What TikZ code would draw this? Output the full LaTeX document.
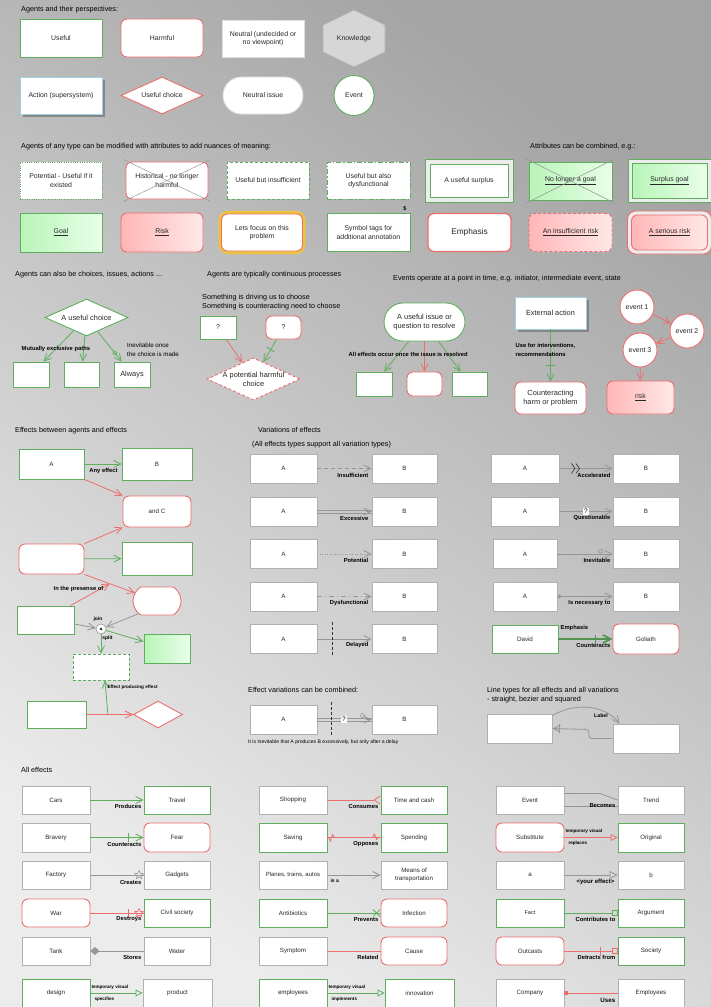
\documentclass[tikz,border=0pt]{standalone}
\usepackage{fontspec}
\setmainfont{Liberation Sans}
\usetikzlibrary{arrows.meta,shapes.geometric,shapes.misc,decorations.markings,shadows}
\definecolor{gr}{RGB}{94,174,94}
\definecolor{rd}{RGB}{236,110,110}
\definecolor{gy}{RGB}{176,176,176}
\definecolor{gyl}{RGB}{150,150,150}
\definecolor{bl}{RGB}{160,208,228}
\definecolor{gfa}{RGB}{184,244,184}
\definecolor{gfb}{RGB}{232,255,232}
\definecolor{pfa}{RGB}{255,182,182}
\definecolor{pfb}{RGB}{255,232,232}
\definecolor{gold}{RGB}{236,196,60}
\definecolor{bgtop}{RGB}{164,164,164}
\definecolor{bgbot}{RGB}{236,236,236}
\definecolor{txt}{RGB}{40,40,40}
\definecolor{hexf}{RGB}{214,214,214}
\definecolor{sqred}{RGB}{230,20,20}
\tikzset{
  nf/.style={font=\fontsize{6.9}{8.2}\selectfont},
  sf/.style={font=\fontsize{6.2}{7.4}\selectfont},
  bf/.style={font=\fontsize{7.4}{8.8}\selectfont},
  base/.style={draw, fill=white, line width=0.9pt, inner sep=1pt, align=center, text=txt, nf},
  gbox/.style={base, draw=gr},
  rbox/.style={base, draw=rd, rounded corners=6pt},
  nbox/.style={base, draw=gy},
  sz/.style 2 args={minimum width=#1pt, minimum height=#2pt},
  ttl/.style={anchor=west, inner sep=0pt, text=black, align=left, font=\fontsize{7.2}{8.8}\selectfont},
  lbl/.style={inner sep=0.5pt, text=black, align=left, font=\bfseries\fontsize{5.8}{7}\selectfont},
  tny/.style={inner sep=0.3pt, text=black, font=\bfseries\fontsize{4.6}{5.6}\selectfont},
  eff/.style={line width=0.8pt, -{Straight Barb[length=7pt,width=7pt]}},
  ge/.style={eff, draw=gr}, re/.style={eff, draw=rd}, ye/.style={eff, draw=gyl},
  xbar/.style 2 args={postaction={decorate, decoration={markings, mark=at position #1 with {\draw[-,solid,line width=0.9pt,#2] (0,-4.5pt) -- (0,4.5pt);}}}},
  mk/.style={postaction={decorate, decoration={markings, mark=#1}}},
  gfill/.style={left color=gfa, right color=gfb},
  pfill/.style={left color=pfa, right color=pfb},
  shad/.style={drop shadow={shadow xshift=2.5pt, shadow yshift=-2.5pt, fill=black!60, opacity=0.6}},
  crossl/.style={draw=gyl, line width=0.5pt},
}
\begin{document}
\begin{tikzpicture}[x=1pt,y=-1pt]
\useasboundingbox (0,0) rectangle (711,1007);
\shade[top color=bgtop, bottom color=bgbot, shading angle=-35] (0,0) rectangle (711,1007);

% ---------- Section 1
\node[ttl] (t1) at (21,10) {Agents and their perspectives:};
\node[gbox, sz={82}{38}] (useful) at (61,38) {Useful};
\node[rbox, sz={82}{38}] (harmful) at (162,38) {Harmful};
\node[base, draw=gray!25, sz={82}{37}] (neutral) at (263,38.5) {Neutral (undecided or\\no viewpoint)};
\draw[draw=gray!60, fill=hexf, line width=0.6pt] (354,10) -- (385,25) -- (385,52) -- (354,67) -- (323,52) -- (323,25) -- cycle;
\node[nf, text=txt] (know) at (354,38.5) {Knowledge};
\node[base, draw=bl, shad, sz={82}{37}] (action) at (61,95.5) {Action (supersystem)};
\node[base, draw=rd, diamond, aspect=2.2, inner sep=0pt, sz={82}{37}] (uchoice) at (162,95.5) {Useful choice};
\node[base, draw=gray!25, rounded rectangle, sz={82}{37}] (nissue) at (263,95.5) {Neutral issue};
\node[base, draw=gr, circle, minimum size=40pt, inner sep=0pt] (event0) at (354,95.5) {Event};

% ---------- Section 2
\node[ttl] (t2) at (21,147) {Agents of any type can be modified with attributes to add nuances of meaning:};
\node[ttl] (t2b) at (530,147) {Attributes can be combined, e.g.:};
\node[gbox, sz={82}{37}, dash pattern=on 1pt off 1.3pt] (pot) at (61,180.5) {Potential - Useful if it\\existed};
\node[rbox, sz={82}{37}] (hist) at (167,180.5) {Historical - no longer\\harmful};
\draw[crossl] ([shift={(-2,-2)}]hist.north west) -- ([shift={(2,2)}]hist.south east);
\draw[crossl] ([shift={(-2,2)}]hist.south west) -- ([shift={(2,-2)}]hist.north east);
\node[gbox, sz={82}{37}, dash pattern=on 3pt off 2pt] (insuf) at (268,180.5) {Useful but insufficient};
\node[gbox, sz={83}{37}, dash pattern=on 5pt off 2pt on 1.5pt off 2pt] (dysf) at (368.5,180.5) {Useful but also\\dysfunctional};
\node[base, draw=gr, fill=gray!15, sz={88}{43}] (surO) at (469,180.5) {};
\node[gbox, sz={78}{33}] (sur) at (469,180.5) {A useful surplus};
\node[gbox, gfill, sz={83}{38}] (nlg) at (570.5,181) {\underline{No longer a goal}};
\draw[crossl] ([shift={(-3,-3)}]nlg.north west) -- ([shift={(3,3)}]nlg.south east);
\draw[crossl] ([shift={(-3,3)}]nlg.south west) -- ([shift={(3,-3)}]nlg.north east);
\node[base, draw=gr, fill=gray!15, sz={83}{43}] (sgO) at (669.5,180.5) {};
\node[gbox, gfill, sz={75}{35}] (sg) at (669.5,180.5) {\underline{Surplus goal}};

\node[gbox, gfill, sz={82}{39}] (goal) at (61,232.5) {\underline{Goal}};
\node[rbox, pfill, sz={82}{39}] (risk) at (162,232.5) {\underline{Risk}};
\node[draw=gold, line width=3.2pt, rounded corners=8pt, inner sep=0pt, sz={84}{40}] (focO) at (262,232.5) {};
\node[rbox, sz={81}{37}] (focus) at (262,232.5) {Lets focus on this\\problem};
\node[gbox, sz={83}{38}] (sym) at (368.5,232.5) {Symbol tags for\\additional annotation};
\node[tny, font=\bfseries\fontsize{5.5}{6}\selectfont] (dollar) at (405,209) {\$};
\node[rbox, line width=1.3pt, sz={83}{38}, font=\fontsize{8.3}{9.5}\selectfont] (emph) at (469.5,232.5) {Emphasis};
\node[rbox, pfill, dash pattern=on 3pt off 2pt, sz={83}{38}] (irisk) at (570.5,232.5) {\underline{An insufficient risk}};
\node[base, draw=rd, rounded corners=8pt, fill=gray!15, sz={84}{43}] (srO) at (669.5,232.5) {};
\node[rbox, pfill, sz={76}{35}] (srisk) at (669.5,232.5) {\underline{A serious risk}};

% ---------- Section 3
\node[ttl] (t3a) at (15,275) {Agents can also be choices, issues, actions ...};
\node[ttl] (t3b) at (207,275) {Agents are typically continuous processes};
\node[ttl] (t3c) at (393,279) {Events operate at a point in time, e.g. initiator, intermediate event, state};

\node[base, draw=gr, diamond, aspect=2.2, inner sep=0pt, bf, sz={83}{37}] (uc) at (86.5,317.5) {A useful choice};
\node[gbox, sz={36}{25}] (c1) at (31,374.5) {};
\node[gbox, sz={35}{25}] (c2) at (81.5,374.5) {};
\node[gbox, bf, sz={36}{25}] (always) at (132,374.5) {Always};
\draw[ge] (uc) -- (c1);
\draw[ge] (uc) -- (c2);
\draw[ge, mk={at position -11pt with {\draw[-, gr, line width=0.6pt, fill=none] (0,0) circle (2pt);}}] (uc) -- (always);
\node[lbl, anchor=west] (lme) at (21,349) {Mutually exclusive paths};
\node[anchor=west, inner sep=0pt, align=left, text=black, font=\fontsize{6.2}{9}\selectfont] (linev) at (127,349.5) {Inevitable once\\the choice is made};

\node[anchor=west, inner sep=0pt, align=left, text=black, font=\fontsize{7.2}{9}\selectfont] (lsome) at (202,302.5) {Something is driving us to choose\\Something is counteracting need to choose};
\node[gbox, sz={36}{23}] (q1) at (218,327.5) {?};
\node[rbox, sz={35}{23}] (q2) at (283.5,327.5) {?};
\node[base, draw=rd, diamond, aspect=2.2, inner sep=0pt, dash pattern=on 3pt off 2pt, bf, sz={83}{37}] (ph) at (253.5,379) {A potential harmful\\choice};
\draw[re] (q1) -- (ph);
\draw[ge, xbar={0.45}{gr}] (q2) -- (ph);

\node[gbox, rounded rectangle, bf, sz={83}{38}] (issue) at (424.5,322) {A useful issue or\\question to resolve};
\node[gbox, sz={36}{24}] (e1) at (374,384) {};
\node[rbox, sz={35}{24}] (e2) at (424.5,384) {};
\node[gbox, sz={35}{24}] (e3) at (469.5,384) {};
\draw[ge] (issue) -- (e1);
\draw[re] (issue) -- (e2);
\draw[ge] (issue) -- (e3);
\node[lbl, anchor=west] (lall) at (348,354) {All effects occur once the issue is resolved};

\node[base, draw=bl, shad, bf, sz={71}{32}] (ext) at (550.5,313) {External action};
\node[rbox, bf, sz={71}{32}] (counter) at (550.5,398) {Counteracting\\harm or problem};
\draw[ge, xbar={-16pt}{gr}] (ext) -- (counter);
\node[lbl, anchor=west, font=\bfseries\fontsize{5.8}{9}\selectfont] (luse) at (515,349.5) {Use for interventions,\\recommendations};

\node[base, draw=rd, circle, minimum size=34pt, inner sep=0pt] (ev1) at (637,307) {event 1};
\node[base, draw=rd, circle, minimum size=34pt, inner sep=0pt] (ev2) at (687,331) {event 2};
\node[base, draw=rd, circle, minimum size=34pt, inner sep=0pt] (ev3) at (640,350) {event 3};
\node[rbox, pfill, sz={67}{33}] (riskb) at (640.5,397.5) {\underline{risk}};
\draw[re] (ev1) -- (ev2);
\draw[re] (ev2) -- (ev3);
\draw[re] (ev3) -- (riskb);

% ---------- Section 4: effects between agents and effects
\node[ttl] (t4) at (15,431) {Effects between agents and effects};
\node[gbox, sf, sz={65}{30}] (A) at (51.5,464) {A};
\node[gbox, sf, sz={70}{32}] (B) at (157,464) {B};
\draw[ge] (A) -- (B);
\node[lbl] (lany) at (103.5,471) {Any effect};
\node[rbox, sf, sz={68}{31}] (C) at (157,511.5) {and C};
\draw[re] (A.south east) -- (C.north west);
\node[rbox, sz={65}{30}] (rl) at (51.5,559) {};
\node[gbox, sz={70}{33}] (g2) at (157,558.5) {};
\draw[re] (rl.north east) -- (C.south west);
\draw[ge] (rl) -- (g2);
\node[rbox, rounded rectangle, sz={50}{28}] (S) at (157,601) {};
\draw[re] (rl.south east) -- coordinate[pos=0.5] (m1) (S.160);
\node[gbox, sz={57}{28}] (g3) at (45.5,620) {};
\draw[re] ([xshift=-4pt]g3.north east) -- (m1);
\node[lbl] (lpres) at (78.5,589) {In the presense of};
\node[circle, draw=gyl, fill=white, line width=0.6pt, minimum size=10pt, inner sep=0pt] (join) at (101,629) {};
\fill[black!70] (join.center) circle (1.6pt);
\draw[ye] ([yshift=-4pt]g3.east) -- (join);
\draw[ye] (S.215) -- (join);
\node[gbox, gfill, sz={46}{29}] (g4) at (167,648.5) {};
\node[gbox, dash pattern=on 3pt off 2pt, sz={56}{26}] (dd) at (101,667) {};
\draw[ge] (join) -- ([yshift=7pt]g4.west);
\draw[ge] (join) -- (dd.north);
\node[tny, font=\bfseries\fontsize{5}{6}\selectfont] (ljoin) at (98,619) {join};
\node[tny, font=\bfseries\fontsize{5}{6}\selectfont] (lsplit) at (107.5,638) {split};
\node[gbox, sz={59}{27}] (g5) at (56.5,714.5) {};
\node[base, draw=rd, diamond, inner sep=0pt, sz={49}{27}] (di) at (158,714.5) {};
\draw[re] (g5) -- coordinate[pos=0.46] (m2) (di);
\draw[ge] (m2) -- ([xshift=4pt]dd.south);
\node[tny, anchor=west] (lepe) at (107,687) {Effect producing effect};

% ---------- Variations
\node[ttl] (t5) at (258,430) {Variations of effects};
\node[ttl] (t5b) at (252,445) {(All effects types support all variation types)};
\node[nbox, sf, sz={67}{29}] (va1) at (283.5,468.5) {A};
\node[nbox, sf, sz={65}{29}] (vb1) at (404.5,468.5) {B};
\draw[ye, dash pattern=on 4pt off 3pt] (va1) -- (vb1);
\node[lbl, anchor=east] (lv1) at (369,475) {Insufficient};
\node[nbox, sf, sz={67}{29}] (va2) at (283.5,511.5) {A};
\node[nbox, sf, sz={65}{29}] (vb2) at (404.5,511.5) {B};
\draw[draw=gyl, line width=0.7pt] ([yshift=1.6pt]va2.east) -- ([yshift=1.6pt]vb2.west);
\draw[draw=gyl, line width=0.7pt] ([yshift=-1.6pt]va2.east) -- ([yshift=-1.6pt]vb2.west);
\draw[ye, shorten <=49pt] (va2) -- (vb2);
\node[lbl, anchor=east] (lv2) at (369,518) {Excessive};
\node[nbox, sf, sz={67}{29}] (va3) at (283.5,554) {A};
\node[nbox, sf, sz={65}{29}] (vb3) at (404.5,554) {B};
\draw[ye, dash pattern=on 1pt off 1.5pt] (va3) -- (vb3);
\node[lbl, anchor=east] (lv3) at (369,560) {Potential};
\node[nbox, sf, sz={67}{29}] (va4) at (283.5,596.5) {A};
\node[nbox, sf, sz={65}{29}] (vb4) at (404.5,596.5) {B};
\draw[ye, dash pattern=on 5pt off 3pt on 1pt off 3pt] (va4) -- (vb4);
\node[lbl, anchor=east] (lv4) at (369,603) {Dysfunctional};
\node[nbox, sf, sz={67}{29}] (va5) at (283.5,639) {A};
\node[nbox, sf, sz={65}{29}] (vb5) at (404.5,639) {B};
\draw[ye] (va5) -- (vb5);
\coordinate (dl1) at (332,622);
\coordinate (dl2) at (332,656);
\draw[black!80, line width=0.6pt, dash pattern=on 3pt off 2pt] (dl1) -- (dl2);
\node[lbl, anchor=east] (lv5) at (369,645) {Delayed};

\node[nbox, sf, sz={68}{29}] (vc1) at (525,468.5) {A};
\node[nbox, sf, sz={66}{29}] (vd1) at (646,468.5) {B};
\draw[ye, mk={at position 15pt with {\draw[-, black!75, line width=0.7pt] (-3pt,5pt) -- (0.5pt,0pt) -- (-3pt,-5pt) (1.5pt,5pt) -- (5pt,0pt) -- (1.5pt,-5pt);}}] (vc1) -- (vd1);
\node[lbl, anchor=east] (lw1) at (611,475) {Accelerated};
\node[nbox, sf, sz={68}{29}] (vc2) at (525,511.5) {A};
\node[nbox, sf, sz={66}{29}] (vd2) at (646,511.5) {B};
\draw[ye] (vc2) -- node[pos=0.5, fill=white, inner sep=0.8pt, text=black, font=\fontsize{6.5}{7}\selectfont] (qm1) {?} (vd2);
\node[lbl, anchor=east] (lw2) at (611,518) {Questionable};
\node[nbox, sf, sz={64}{29}] (vc3) at (525,554) {A};
\node[nbox, sf, sz={66}{29}] (vd3) at (646,554) {B};
\draw[ye, mk={at position -12pt with {\draw[-, gyl, line width=0.6pt, fill=none] (0,2.8pt) circle (2pt);}}] (vc3) -- (vd3);
\node[lbl, anchor=east] (lw3) at (611,560) {Inevitable};
\node[nbox, sf, sz={64}{29}] (vc4) at (525,596.5) {A};
\node[nbox, sf, sz={66}{29}] (vd4) at (646,596.5) {B};
\draw[ye, {Circle[length=4pt,width=4pt]}-{Straight Barb[length=7pt,width=7pt]}] (vc4) -- (vd4);
\node[lbl, anchor=east] (lw4) at (611,603) {Is necessary to};
\node[gbox, sf, sz={66}{28}] (david) at (525,639) {David};
\node[rbox, sf, sz={66}{30}] (goliath) at (646,639) {Goliath};
\draw[draw=gr!85!black, line width=1.6pt, -{Straight Barb[length=8pt,width=8pt]}, xbar={-17pt}{gr!85!black}] (david) -- (goliath);
\node[lbl, anchor=west] (lemp) at (560,628) {Emphasis};
\node[lbl, anchor=east] (lcnt) at (611,645) {Counteracts};

% ---------- Combined
\node[ttl] (t6) at (248,690) {Effect variations can be combined:};
\node[nbox, sf, sz={67}{29}] (ca) at (283.5,719.5) {A};
\node[nbox, sf, sz={65}{29}] (cb) at (404.5,719.5) {B};
\draw[draw=gyl, line width=0.7pt] ([yshift=1.6pt]ca.east) -- ([yshift=1.6pt]cb.west);
\draw[draw=gyl, line width=0.7pt] ([yshift=-1.6pt]ca.east) -- ([yshift=-1.6pt]cb.west);
\draw[ye, shorten <=49pt, mk={at position -9pt with {\draw[-, gyl, line width=0.6pt, fill=none] (0,4pt) circle (2pt);}}] (ca) -- node[pos=0.49, fill=white, inner sep=0.8pt, text=black, font=\fontsize{6.5}{7}\selectfont] (qm2) {?} (cb);
\coordinate (cl1) at (331,702);
\coordinate (cl2) at (331,736);
\draw[black!80, line width=0.6pt, dash pattern=on 3pt off 2pt] (cl1) -- (cl2);
\node[anchor=west, inner sep=0pt, text=black, font=\fontsize{5.1}{6}\selectfont] (lcomb) at (248,742) {It is inevitable that A produces B excessively, but only after a delay};

% ---------- Line types
\node[ttl] (t7) at (487,695) {Line types for all effects and all variations\\- straight, bezier and squared};
\node[nbox, sz={65}{29}] (L1) at (519.5,728.5) {};
\node[nbox, sz={66}{29}] (L2) at (646,738.5) {};
\draw[ye] ([yshift=-2pt]L1.north east) .. controls (575,702) and (605,705) .. ([xshift=7pt]L2.north west);
\node[tny, font=\bfseries\fontsize{5.2}{6}\selectfont] (llab) at (601,716) {Label};
\coordinate (sq1) at (589,738.5);
\coordinate (sq2) at (589,729.5);
\draw[ye, rounded corners=3pt, xbar={-7pt}{gyl}] (L2.west) -- (sq1) -- (sq2) -- (L1.east);

% ---------- All effects
\node[ttl] (t8) at (21,770) {All effects};
% col 1
\node[nbox, sf, sz={68}{28}] (cars) at (56,800) {Cars};
\node[gbox, sf, sz={66}{28}] (travel) at (177,800) {Travel};
\draw[ge] (cars) -- (travel);
\node[lbl, anchor=east] (l11) at (142,806) {Produces};
\node[nbox, sf, sz={68}{29}] (bravery) at (56,837.5) {Bravery};
\node[rbox, sf, sz={66}{29}] (fear) at (177,837.5) {Fear};
\draw[ge, xbar={-15pt}{gr}] (bravery) -- (fear);
\node[lbl, anchor=east] (l12) at (142,844) {Counteracts};
\node[nbox, sf, sz={68}{28}] (factory) at (56,875) {Factory};
\node[nbox, sf, sz={66}{28}] (gadgets) at (177,875) {Gadgets};
\draw[draw=gyl, line width=0.8pt, mk={at position -4.5pt with {\node[star, star points=5, star point ratio=2.2, draw=gyl, line width=0.6pt, fill=none, minimum size=9pt, inner sep=0pt] (stA) {};}}] (factory) -- (gadgets);
\node[lbl, anchor=east] (l13) at (142,882) {Creates};
\node[rbox, sf, sz={68}{28}] (war) at (56,913) {War};
\node[gbox, sf, sz={66}{28}] (civil) at (177,913) {Civil society};
\draw[draw=rd, line width=0.8pt, xbar={-15pt}{rd}, mk={at position -4.5pt with {\node[star, star points=5, star point ratio=2.2, draw=rd, line width=0.7pt, fill=none, minimum size=9pt, inner sep=0pt] (stB) {};}}] (war) -- (civil);
\node[lbl, anchor=east] (l14) at (142,919.5) {Destroys};
\node[nbox, sf, sz={68}{28}] (tank) at (56,951) {Tank};
\node[nbox, sf, sz={66}{28}] (water) at (177,951) {Water};
\draw[draw=gyl, fill=gray, line width=0.8pt, {Diamond[length=9pt,width=8pt]}-] (tank) -- (water);
\node[lbl, anchor=east] (l15) at (142,957) {Stores};
\node[gbox, sf, sz={68}{28}] (design) at (56,993) {design};
\node[nbox, sf, sz={69}{28}] (product) at (177.5,993) {product};
\draw[draw=gr, line width=0.8pt, -{Triangle[open,length=7pt,width=7pt]}] (design) -- (product);
\node[tny, anchor=west] (l16a) at (91,987) {temporary visual};
\node[tny, anchor=west] (l16b) at (94,999) {specifies};
% col 2
\node[nbox, sf, sz={68}{28}] (shopping) at (293,800) {Shopping};
\node[gbox, sf, sz={66}{28}] (timecash) at (414,800) {Time and cash};
\draw[draw=rd, line width=0.8pt, -{Straight Barb[reversed,length=6pt,width=8pt]}] (shopping) -- (timecash);
\node[lbl, anchor=east] (l21) at (379,806) {Consumes};
\node[gbox, sf, sz={68}{29}] (saving) at (293,837.5) {Saving};
\node[gbox, sf, sz={66}{29}] (spending) at (414,837.5) {Spending};
\draw[draw=rd, line width=0.8pt, mk={at position 5pt with {\draw[-, rd, line width=0.8pt] (-4pt,0pt) -- (-2pt,-3.5pt) -- (0pt,3pt) -- (2pt,0pt);}}, mk={at position -5pt with {\draw[-, rd, line width=0.8pt] (-3pt,0pt) -- (-1pt,3.5pt) -- (1pt,-2pt) -- (3pt,0pt);}}] (saving) -- (spending);
\node[lbl, anchor=east] (l22) at (379,844) {Opposes};
\node[nbox, sz={68}{28}, font=\fontsize{6}{7.2}\selectfont] (planes) at (293,875) {Planes, trains, autos};
\node[nbox, sf, sz={66}{28}] (means) at (414,875) {Means of\\transportation};
\draw[ye] (planes) -- (means);
\node[tny, anchor=west, font=\bfseries\fontsize{5}{6}\selectfont] (l23) at (330,881) {is a};
\node[gbox, sf, sz={68}{28}] (antib) at (293,913) {Antibiotics};
\node[rbox, sf, sz={66}{28}] (infection) at (414,913) {Infection};
\draw[draw=gr, line width=0.8pt, mk={at position -4pt with {\draw[-, gr, line width=0.8pt] (-3.5pt,-3.5pt) -- (3.5pt,3.5pt) (-3.5pt,3.5pt) -- (3.5pt,-3.5pt);}}] (antib) -- (infection);
\node[lbl, anchor=east] (l24) at (379,919.5) {Prevents};
\node[nbox, sf, sz={68}{28}] (symptom) at (293,951) {Symptom};
\node[rbox, sf, sz={66}{28}] (cause) at (414,951) {Cause};
\draw[draw=rd, line width=0.8pt] (symptom) -- (cause);
\node[lbl, anchor=east] (l25) at (379,957) {Related};
\node[gbox, sf, sz={68}{28}] (employees) at (293,993) {employees};
\node[gbox, sf, sz={69}{28}] (innovation) at (419.5,993) {innovation};
\draw[draw=gr, line width=0.8pt, -{Triangle[open,length=7pt,width=7pt]}] (employees) -- (innovation);
\node[tny, anchor=west] (l26a) at (328,987) {temporary visual};
\node[tny, anchor=west] (l26b) at (331,999) {implements};
% col 3
\node[nbox, sf, sz={68}{28}] (evt) at (530,800) {Event};
\node[nbox, sf, sz={66}{28}] (trend) at (651,800) {Trend};
\coordinate (bk) at (600,793.5);
\draw[draw=gyl, line width=0.8pt] ([yshift=6.5pt]evt.east) -- (bk) -- (trend.west);
\draw[draw=gyl, line width=0.8pt] ([yshift=-6pt]evt.east) -- ([yshift=-6pt]trend.west);
\node[lbl, anchor=east] (l31) at (616,806) {Becomes};
\node[rbox, sf, sz={68}{29}] (subst) at (530,837.5) {Substitute};
\node[gbox, sf, sz={66}{29}] (original) at (651,837.5) {Original};
\draw[draw=rd, line width=0.8pt, -{Triangle[open,length=7pt,width=7pt]}] (subst) -- (original);
\node[tny, anchor=west] (l32a) at (565,831) {temporary visual};
\node[tny, anchor=west] (l32b) at (568,843.5) {replaces};
\node[nbox, sf, sz={68}{28}] (na) at (530,875) {a};
\node[nbox, sf, sz={66}{28}] (nb) at (651,875) {b};
\draw[draw=gyl, line width=0.8pt, -{Triangle[open,length=8pt,width=8pt]}] (na) -- (nb);
\node[lbl, anchor=east, font=\bfseries\fontsize{6}{7}\selectfont] (l33) at (615,882) {<your effect>};
\node[gbox, sz={68}{28}, font=\fontsize{5.6}{7}\selectfont] (fact) at (530,913) {Fact};
\node[gbox, sf, sz={66}{28}] (argument) at (651,913) {Argument};
\draw[draw=gr, line width=0.8pt, -{Square[open,length=6pt,width=6pt]}] (fact) -- (argument);
\node[lbl, anchor=east] (l34) at (616,919.5) {Contributes to};
\node[rbox, sf, sz={68}{28}] (outcasts) at (530,951) {Outcasts};
\node[gbox, sf, sz={66}{28}] (society) at (651,951) {Society};
\draw[draw=rd, line width=0.8pt, -{Square[open,length=6pt,width=6pt]}, xbar={-17pt}{rd}] (outcasts) -- (society);
\node[lbl, anchor=east] (l35) at (616,957) {Detracts from};
\node[nbox, sf, sz={68}{28}] (company) at (530,993) {Company};
\node[nbox, sf, sz={66}{28}] (employ2) at (651,993) {Employees};
\draw[draw=rd, fill=sqred, line width=0.8pt, {Square[length=3.5pt,width=3.5pt]}-] (company) -- (employ2);
\node[lbl, anchor=east, font=\bfseries\fontsize{6.2}{7}\selectfont] (l36) at (616,1000) {Uses};
\end{tikzpicture}
\end{document}
